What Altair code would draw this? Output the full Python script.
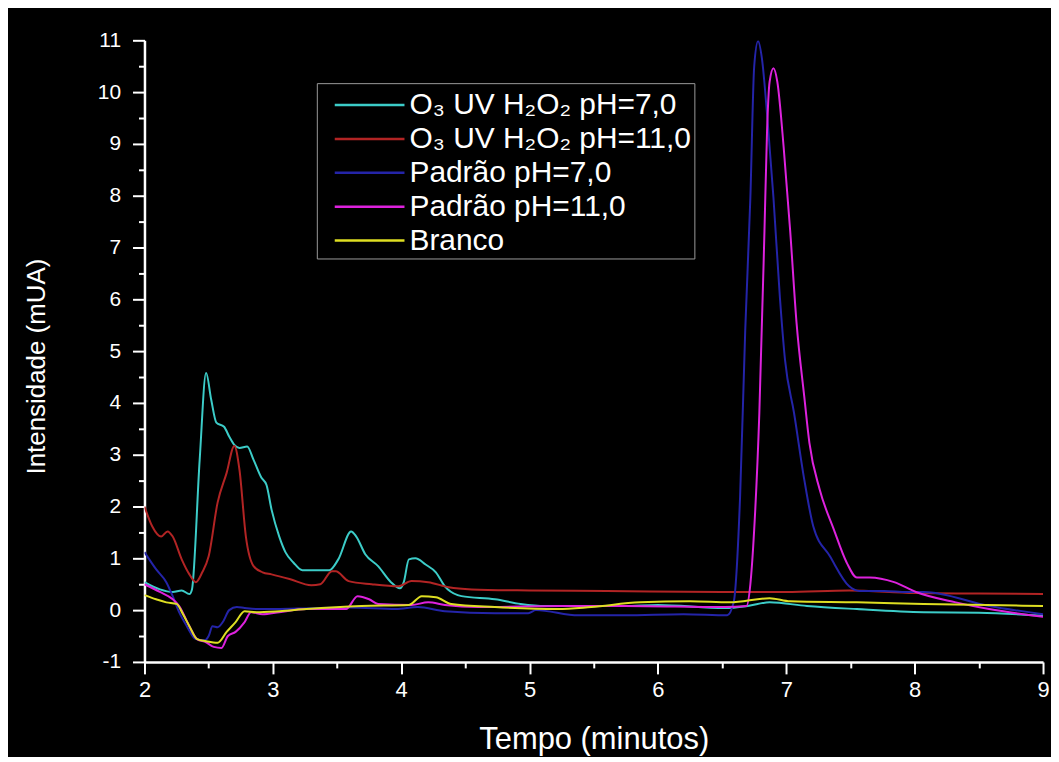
import altair as alt
import pandas as pd

series_names = [
    "O₃ UV H₂O₂ pH=7,0",
    "O₃ UV H₂O₂ pH=11,0",
    "Padrão pH=7,0",
    "Padrão pH=11,0",
    "Branco",
]
series_colors = ["#3CCCC8", "#B22424", "#2424A8", "#DD22DD", "#DEDE22"]

cyan_x = [2.0, 2.12, 2.22, 2.29, 2.35, 2.37, 2.43, 2.48, 2.52, 2.56, 2.62, 2.66, 2.70, 2.74, 2.80, 2.85,
          2.91, 2.95, 2.99, 3.05, 3.10, 3.16, 3.23, 3.44, 3.51, 3.61, 3.65, 3.72, 3.82, 3.92, 3.99, 4.02,
          4.06, 4.11, 4.19, 4.27, 4.34, 4.44, 4.47, 4.73, 4.93, 5.12, 5.74, 6.0, 6.52, 6.70, 6.87, 7.16,
          7.55, 8.07, 8.5, 9.0]
cyan_y = [0.54, 0.40, 0.35, 0.38, 0.31, 0.40, 2.9, 4.58, 4.06, 3.62, 3.54, 3.35, 3.19, 3.13, 3.16, 2.90,
          2.56, 2.42, 1.94, 1.42, 1.11, 0.92, 0.77, 0.77, 0.98, 1.52, 1.42, 1.08, 0.85, 0.54, 0.42, 0.54,
          0.98, 1.0, 0.88, 0.73, 0.46, 0.29, 0.27, 0.21, 0.12, 0.08, 0.08, 0.10, 0.04, 0.08, 0.15, 0.08,
          0.02, -0.04, -0.05, -0.11]

red_x = [2.0, 2.06, 2.13, 2.18, 2.22, 2.29, 2.35, 2.40, 2.45, 2.50, 2.57, 2.64, 2.70, 2.74, 2.79, 2.85,
         2.92, 2.99, 3.13, 3.30, 3.37, 3.46, 3.49, 3.59, 3.77, 3.98, 4.08, 4.21, 4.37, 4.55, 5.0, 5.6,
         6.5, 7.0, 7.49, 8.0, 8.5, 9.0]
red_y = [2.0, 1.62, 1.42, 1.52, 1.42, 0.98, 0.69, 0.54, 0.73, 1.04, 2.08, 2.65, 3.17, 2.71, 1.42, 0.85,
         0.73, 0.69, 0.60, 0.48, 0.50, 0.75, 0.75, 0.56, 0.50, 0.46, 0.56, 0.54, 0.44, 0.40, 0.38, 0.37,
         0.35, 0.35, 0.38, 0.33, 0.32, 0.31]

blue_x = [2.0, 2.09, 2.17, 2.22, 2.27, 2.33, 2.40, 2.47, 2.50, 2.53, 2.57, 2.61, 2.66, 2.72, 2.78, 2.87,
          3.2, 3.6, 3.96, 4.13, 4.34, 4.73, 4.99, 5.05, 5.38, 5.74, 6.2, 6.54, 6.59, 6.64, 6.68, 6.72,
          6.75, 6.78, 6.81, 6.85, 6.90, 6.95, 6.99, 7.06, 7.14, 7.21, 7.34, 7.49, 7.57, 7.76, 7.94, 8.07,
          8.58, 9.0]
blue_y = [1.12, 0.79, 0.54, 0.27, -0.04, -0.31, -0.56, -0.58, -0.50, -0.31, -0.33, -0.23, 0.0, 0.06, 0.04, 0.02,
          0.03, 0.05, 0.02, 0.06, -0.02, -0.06, -0.06, 0.0, -0.1, -0.1, -0.08, -0.1, 0.15, 2.19, 5.4, 7.96,
          10.5, 10.98, 10.65, 9.58, 7.96, 6.04, 4.83, 3.81, 2.52, 1.62, 1.04, 0.46, 0.37, 0.37, 0.35, 0.35,
          0.08, -0.08]

mag_x = [2.0, 2.12, 2.22, 2.27, 2.35, 2.41, 2.48, 2.54, 2.60, 2.65, 2.71, 2.78, 2.83, 2.92, 3.05, 3.26,
         3.57, 3.66, 3.75, 3.82, 4.08, 4.21, 4.34, 4.60, 5.24, 5.74, 6.52, 6.69, 6.72, 6.75, 6.79, 6.83,
         6.85, 6.87, 6.90, 6.93, 6.98, 7.03, 7.08, 7.14, 7.18, 7.26, 7.37, 7.47, 7.55, 7.65, 7.84, 8.01,
         8.32, 8.58, 9.0]
mag_y = [0.50, 0.35, 0.21, 0.08, -0.31, -0.56, -0.62, -0.71, -0.73, -0.50, -0.42, -0.23, -0.04, -0.08, -0.04, 0.02,
         0.02, 0.27, 0.21, 0.12, 0.10, 0.15, 0.10, 0.06, 0.08, 0.08, 0.06, 0.08, 0.5, 1.56, 3.81, 7.33,
         9.25, 10.2, 10.46, 10.2, 8.92, 7.33, 5.54, 4.12, 3.23, 2.33, 1.56, 0.92, 0.63, 0.63, 0.54, 0.35,
         0.15, 0.02, -0.13]

yel_x = [2.0, 2.09, 2.17, 2.25, 2.30, 2.35, 2.41, 2.48, 2.57, 2.64, 2.71, 2.78, 2.87, 3.05, 3.26, 3.69,
         4.06, 4.16, 4.27, 4.39, 4.73, 5.22, 5.48, 5.86, 6.25, 6.56, 6.87, 7.03, 7.55, 8.07, 9.0]
yel_y = [0.29, 0.21, 0.15, 0.12, -0.08, -0.31, -0.56, -0.60, -0.63, -0.42, -0.23, -0.02, -0.04, -0.02, 0.02, 0.08,
         0.10, 0.27, 0.25, 0.12, 0.06, 0.02, 0.06, 0.15, 0.17, 0.15, 0.23, 0.17, 0.15, 0.12, 0.08]

x_ticks = [2 + 0.5 * i for i in range(15)]
y_ticks = [-1 + 0.5 * i for i in range(25)]

rows = []
for k, (xs, ys) in enumerate([(cyan_x, cyan_y), (red_x, red_y), (blue_x, blue_y),
                              (mag_x, mag_y), (yel_x, yel_y)]):
    for i, (a, b) in enumerate(zip(xs, ys)):
        rows.append({"t": a, "v": b, "s": series_names[k], "k": k, "i": i})
df = pd.DataFrame(rows)

FONT = "Liberation Sans"

x_axis = alt.Axis(
    values=x_ticks,
    labelExpr="datum.value % 1 === 0 ? '' + datum.value : ''",
    tickSize={"condition": {"test": "datum.value % 1 !== 0", "value": 6}, "value": 12},
    labelFlush=False, labelOverlap=False, labelPadding=6,
    labelFontSize=22, titleFontSize=31, titlePadding=24,
    title="Tempo (minutos)",
)
y_axis = alt.Axis(
    values=y_ticks,
    labelExpr="datum.value % 1 === 0 ? '' + datum.value : ''",
    tickSize={"condition": {"test": "datum.value % 1 !== 0", "value": 6}, "value": 12},
    labelFlush=False, labelOverlap=False, labelPadding=12,
    labelFontSize=21, titleFontSize=26, titlePadding=48, titleY=327,
    title="Intensidade (mUA)",
)

legend = alt.Legend(
    orient="none", legendX=173, legendY=43, title=None,
    symbolType="M-2,0L2,0", symbolSize=1225, symbolStrokeWidth=2.5,
    symbolOffset=31, labelOffset=21,
    labelFontSize=30, labelColor="white", labelFont=FONT, labelLimit=0,
    strokeColor="#9a9a9a", fillColor="black", padding=3, rowPadding=0,
)

chart = alt.Chart(df).mark_line(strokeWidth=2, clip=True, interpolate="monotone").encode(
    x=alt.X("t:Q", scale=alt.Scale(domain=[2, 9], nice=False, zero=False), axis=x_axis),
    y=alt.Y("v:Q", scale=alt.Scale(domain=[-1, 11], nice=False, zero=False), axis=y_axis),
    color=alt.Color("s:N", scale=alt.Scale(domain=series_names, range=series_colors),
                    sort=series_names, legend=legend),
    order=alt.Order("i:Q"),
    detail="k:N",
).properties(
    width=902, height=624,
    autosize=alt.AutoSizeParams(type="none"),
    padding={"left": 137, "top": 31, "right": 8, "bottom": 94},
    background="black",
).configure_axis(
    domainColor="white", domainWidth=2.5, tickColor="white", tickWidth=2,
    labelColor="white", titleColor="white", labelFont=FONT, titleFont=FONT,
    titleFontWeight="normal", grid=False,
).configure_view(strokeWidth=0)

chart.save("out.html", embed_options={"renderer": "svg", "actions": False})
